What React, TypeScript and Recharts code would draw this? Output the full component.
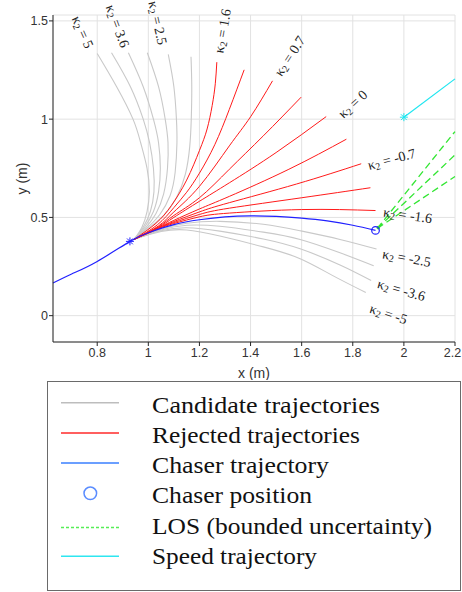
import React from 'react';
import { ComposedChart, Line, Scatter, XAxis, YAxis, CartesianGrid } from 'recharts';

type Pt = [number, number];

const X_TICKS = [0.8, 1, 1.2, 1.4, 1.6, 1.8, 2, 2.2];
const Y_TICKS = [0, 0.5, 1, 1.5];

// fan start, on the chaser trajectory
const S: Pt = [0.945, 0.389];

// gray candidates, upper group (kappa2 = 5 ... ~1.9)
const CANDIDATE_UPPER: Pt[][] = [
  [S, [0.975, 0.45], [0.995, 0.53], [1.004, 0.63], [0.995, 0.75], [0.97, 0.88], [0.94, 1.0], [0.876, 1.165], [0.8, 1.334]],
  [S, [0.98, 0.45], [1.008, 0.53], [1.022, 0.63], [1.02, 0.75], [1.005, 0.88], [0.98, 1.0], [0.93, 1.165], [0.856, 1.338]],
  [S, [0.985, 0.45], [1.02, 0.53], [1.04, 0.63], [1.047, 0.75], [1.04, 0.88], [1.02, 1.0], [0.98, 1.165], [0.922, 1.338]],
  [S, [0.99, 0.448], [1.03, 0.52], [1.06, 0.62], [1.075, 0.75], [1.077, 0.88], [1.066, 1.0], [1.04, 1.165], [0.996, 1.338]],
  [S, [0.995, 0.446], [1.045, 0.515], [1.085, 0.61], [1.105, 0.73], [1.112, 0.88], [1.11, 1.0], [1.1, 1.165], [1.078, 1.33]],
  [S, [1.0, 0.444], [1.06, 0.51], [1.11, 0.6], [1.145, 0.72], [1.162, 0.86], [1.168, 1.0], [1.17, 1.165], [1.167, 1.318]],
];

// gray candidates, lower group (kappa2 ~ -2.5 ... -5)
const CANDIDATE_LOWER: Pt[][] = [
  [S, [1.05, 0.44], [1.15, 0.47], [1.28, 0.48], [1.45, 0.465], [1.594, 0.432], [1.75, 0.388], [1.893, 0.339]],
  [S, [1.05, 0.436], [1.15, 0.46], [1.28, 0.455], [1.45, 0.425], [1.594, 0.388], [1.75, 0.32], [1.882, 0.254]],
  [S, [1.05, 0.432], [1.15, 0.447], [1.28, 0.43], [1.45, 0.39], [1.594, 0.34], [1.75, 0.258], [1.872, 0.179]],
  [S, [1.05, 0.428], [1.15, 0.436], [1.28, 0.405], [1.45, 0.35], [1.594, 0.29], [1.72, 0.205], [1.851, 0.118]],
];

// red, rejected
const REJECTED: Pt[][] = [
  [S, [1.03, 0.47], [1.09, 0.56], [1.15, 0.69], [1.2, 0.84], [1.23, 0.95], [1.25, 1.07], [1.262, 1.18], [1.268, 1.29]],
  [S, [1.035, 0.462], [1.1, 0.55], [1.15, 0.628], [1.2, 0.725], [1.26, 0.87], [1.317, 1.05], [1.375, 1.251]],
  [S, [1.04, 0.457], [1.1, 0.528], [1.2, 0.658], [1.317, 0.864], [1.4, 1.012], [1.486, 1.195]],
  [S, [1.04, 0.453], [1.1, 0.51], [1.2, 0.6], [1.317, 0.745], [1.45, 0.915], [1.598, 1.112]],
  [S, [1.04, 0.45], [1.1, 0.5], [1.2, 0.582], [1.317, 0.676], [1.5, 0.83], [1.696, 1.013]],
  [S, [1.04, 0.448], [1.1, 0.485], [1.2, 0.543], [1.317, 0.607], [1.55, 0.745], [1.775, 0.898]],
  [S, [1.04, 0.446], [1.1, 0.479], [1.2, 0.528], [1.317, 0.575], [1.58, 0.67], [1.833, 0.773]],
  [S, [1.04, 0.444], [1.1, 0.474], [1.2, 0.515], [1.317, 0.547], [1.6, 0.6], [1.869, 0.651]],
  [S, [1.04, 0.442], [1.1, 0.469], [1.2, 0.503], [1.317, 0.522], [1.6, 0.54], [1.889, 0.535]],
];

const CHASER: Pt[] = [
  [0.627, 0.166], [0.7, 0.212], [0.8, 0.276], [0.928, 0.378], [1.0, 0.422], [1.1, 0.463], [1.2, 0.488],
  [1.3, 0.503], [1.4, 0.508], [1.5, 0.505], [1.6, 0.496], [1.7, 0.482], [1.8, 0.46], [1.889, 0.434],
];

const LOS: Pt[][] = [
  [[1.896, 0.444], [2.2, 0.937]],
  [[1.896, 0.444], [2.2, 0.818]],
  [[1.896, 0.444], [2.2, 0.708]],
];

const SPEED: Pt[] = [[2.0, 1.01], [2.2, 1.205]];

const CHASER_START: Pt[] = [[0.928, 0.378]];
const CHASER_POS: Pt[] = [[1.889, 0.434]];
const LOS_ORIGIN: Pt[] = [[1.9, 0.448]];
const SPEED_START: Pt[] = [[2.0, 1.01]];

const KAPPA_VALUES = ['5', '3.6', '2.5', '1.6', '0.7', '0', '-0.7', '-1.6', '-2.5', '-3.6', '-5'];
const KAPPA_ANCHORS: Pt[] = [
  [0.744, 1.444], [0.881, 1.474], [1.038, 1.49], [1.289, 1.449], [1.552, 1.322], [1.799, 1.078],
  [1.952, 0.798], [2.015, 0.513], [2.011, 0.295], [1.991, 0.132], [1.94, 0.01],
];
const LABEL_ANGLES = [66, 70, 77, -80, -57, -43, -15, 8, 10, 16, 18];

const LEGEND_LABELS = [
  'Candidate trajectories',
  'Rejected trajectories',
  'Chaser trajectory',
  'Chaser position',
  'LOS (bounded uncertainty)',
  'Speed trajectory',
];

const toXY = (pts: Pt[]) => pts.map(([x, y]) => ({ x, y }));

const GRAY = '#c9c9c9';
const RED = '#ff1a1a';
const BLUE = '#2020ff';
const GREEN = '#33e633';
const CYAN = '#1ee6f0';

const starShape = (color: string) => (p: any) => {
  const { cx, cy } = p;
  const r = 4;
  const d = 2.9;
  return (
    <g stroke={color} strokeWidth={1}>
      <line x1={cx - r} y1={cy} x2={cx + r} y2={cy} />
      <line x1={cx} y1={cy - r} x2={cx} y2={cy + r} />
      <line x1={cx - d} y1={cy - d} x2={cx + d} y2={cy + d} />
      <line x1={cx - d} y1={cy + d} x2={cx + d} y2={cy - d} />
    </g>
  );
};

const circleShape = (p: any) => (
  <circle cx={p.cx} cy={p.cy} r={3.8} fill="none" stroke={BLUE} strokeWidth={1.2} />
);

const dotShape = (p: any) => <circle cx={p.cx} cy={p.cy} r={1.8} fill={GREEN} />;

const kappaShape = (p: any) => {
  const { cx, cy, payload } = p;
  return (
    <text
      x={cx}
      y={cy}
      transform={`rotate(${payload.a} ${cx} ${cy})`}
      textAnchor="middle"
      dominantBaseline="central"
      fontFamily="'Liberation Serif', serif"
      fontSize={14}
      fill="#222"
    >
      <tspan>κ</tspan>
      <tspan fontSize={10} dy={3}>2</tspan>
      <tspan dy={-3}>{` = ${payload.k}`}</tspan>
    </text>
  );
};

const kappaData = KAPPA_VALUES.map((k, i) => ({ x: KAPPA_ANCHORS[i][0], y: KAPPA_ANCHORS[i][1], k, a: LABEL_ANGLES[i] }));

const lineProps = {
  dataKey: 'y',
  type: 'natural' as const,
  dot: false,
  activeDot: false,
  isAnimationActive: false,
  legendType: 'none' as const,
};

const FONT_SANS = "'Liberation Sans', Arial, sans-serif";
const tickStyle = { fontFamily: FONT_SANS, fontSize: 12.5, fill: '#333' };

// keep the last x tick inside the frame
const XTick = (p: any) => {
  const { x, y, payload } = p;
  const tx = Math.min(x, 452.5);
  return (
    <text x={tx} y={y} dy="0.71em" textAnchor="middle" fontFamily={FONT_SANS} fontSize={12.5} fill="#333">
      {payload.value}
    </text>
  );
};

function LegendBox() {
  const sampleY = [20.7, 51, 81, 111.3, 145.5, 174.3];
  const baseY = [31.3, 60.7, 90.7, 120.7, 151.7, 181.7];
  // widths of the legend texts in the reference (CM-like serif)
  const textW = [228, 208, 177, 160, 280, 165];
  const sample = (i: number) => {
    const y = sampleY[i];
    if (i === 3) return <circle cx={42.3} cy={y} r={6.3} fill="none" stroke="#5a8cff" strokeWidth={1.5} />;
    const colors = ['#bdbdbd', '#ff2a2a', '#3a7fff', '', '#55ee55', '#2ee6f0'];
    return (
      <line x1={13} y1={y} x2={71} y2={y} stroke={colors[i]} strokeWidth={1.4}
        strokeDasharray={i === 4 ? '3 2' : undefined} />
    );
  };
  return (
    <div style={{ position: 'absolute', left: 47, top: 381, width: 414, height: 210, boxSizing: 'border-box', border: '1px solid #6a6a6a', background: '#fff' }}>
      <svg width={412} height={208} style={{ display: 'block' }}>
        {LEGEND_LABELS.map((t, i) => (
          <g key={t}>
            {sample(i)}
            <text x={104} y={baseY[i]} fontFamily="'Liberation Serif', serif" fontSize={23} textLength={textW[i]}
              lengthAdjust="spacingAndGlyphs" fill="#111">{t}</text>
          </g>
        ))}
      </svg>
    </div>
  );
}

export default function App() {
  return (
    <div style={{ position: 'absolute', left: 0, top: 0, width: 462, height: 592, background: '#fff', overflow: 'hidden' }}>
      <ComposedChart width={462} height={380} margin={{ top: 15, right: 7, left: 10, bottom: 2 }}>
        <CartesianGrid stroke="#e2e2e2" strokeWidth={1} />
        <XAxis
          type="number"
          dataKey="x"
          domain={[0.627, 2.2]}
          ticks={X_TICKS}
          interval={0}
          height={36}
          tickSize={4}
          tickMargin={2}
          tick={<XTick />}
          axisLine={{ stroke: '#262626' }}
          tickLine={{ stroke: '#262626' }}
          label={{ value: 'x (m)', position: 'insideBottom', offset: 0, style: { fontFamily: FONT_SANS, fontSize: 14, fill: '#333' } }}
        />
        <YAxis
          type="number"
          dataKey="y"
          domain={[-0.134, 1.53]}
          ticks={Y_TICKS}
          interval={0}
          width={43}
          tickSize={4}
          tickMargin={1}
          tick={tickStyle}
          axisLine={{ stroke: '#262626' }}
          tickLine={{ stroke: '#262626' }}
          label={{ value: 'y (m)', angle: -90, position: 'insideLeft', offset: 12, style: { textAnchor: 'middle', fontFamily: FONT_SANS, fontSize: 14, fill: '#333' } }}
        />
        {CANDIDATE_UPPER.map((pts, i) => (
          <Line key={'cu' + i} name={'cu' + i} data={toXY(pts)} stroke={GRAY} strokeWidth={1.1} {...lineProps} />
        ))}
        {CANDIDATE_LOWER.map((pts, i) => (
          <Line key={'cl' + i} name={'cl' + i} data={toXY(pts)} stroke={GRAY} strokeWidth={1.1} {...lineProps} />
        ))}
        {REJECTED.map((pts, i) => (
          <Line key={'r' + i} name={'r' + i} data={toXY(pts)} stroke={RED} strokeWidth={1} {...lineProps} />
        ))}
        <Line name="chaser" data={toXY(CHASER)} stroke={BLUE} strokeWidth={1.2} {...lineProps} />
        {LOS.map((pts, i) => (
          <Line key={'los' + i} name={'los' + i} data={toXY(pts)} stroke={GREEN} strokeWidth={1.3} strokeDasharray="7 4" {...lineProps} type="linear" />
        ))}
        <Line name="speed" data={toXY(SPEED)} stroke={CYAN} strokeWidth={1.2} {...lineProps} type="linear" />
        <Scatter name="start" data={toXY(CHASER_START)} shape={starShape(BLUE)} isAnimationActive={false} legendType="none" />
        <Scatter name="speedStart" data={toXY(SPEED_START)} shape={starShape(CYAN)} isAnimationActive={false} legendType="none" />
        <Scatter name="losOrigin" data={toXY(LOS_ORIGIN)} shape={dotShape} isAnimationActive={false} legendType="none" />
        <Scatter name="pos" data={toXY(CHASER_POS)} shape={circleShape} isAnimationActive={false} legendType="none" />
        <Scatter name="kappa" data={kappaData} shape={kappaShape} isAnimationActive={false} legendType="none" />
      </ComposedChart>
      <LegendBox />
    </div>
  );
}
